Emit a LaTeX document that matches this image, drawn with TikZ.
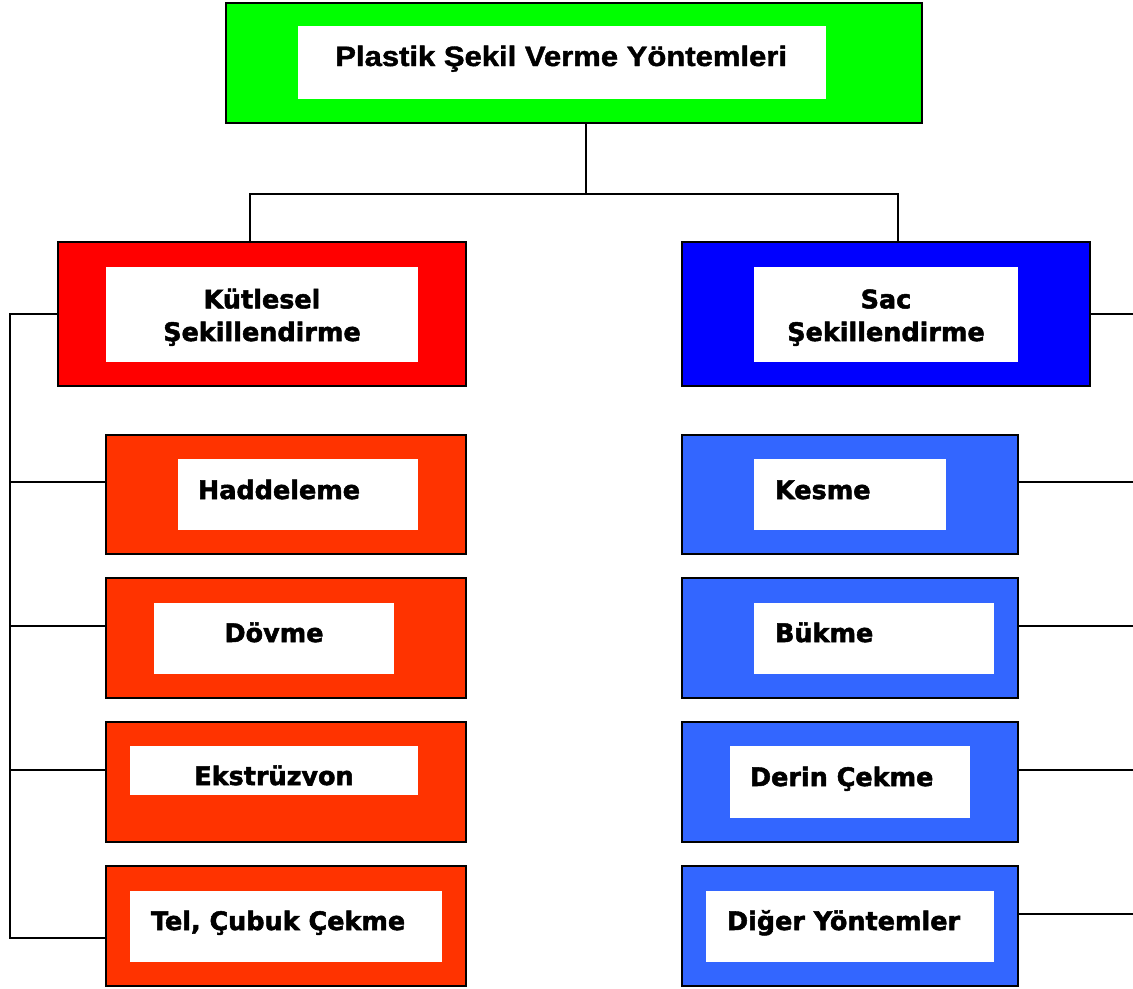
\documentclass[tikz,border=0pt]{standalone}
\usepackage{fontspec}
\usepackage{graphicx}
\setmainfont{DejaVu Sans}[BoldFeatures={FakeBold=2}]
\newfontfamily\titlef{Liberation Sans}[BoldFeatures={FakeBold=1.5}]
\definecolor{cgreen}{HTML}{00FF00}
\definecolor{cred}{HTML}{FF0000}
\definecolor{cblue}{HTML}{0000FF}
\definecolor{corange}{HTML}{FF3300}
\definecolor{clblue}{HTML}{3366FF}
\tikzset{
  box/.style={draw=black, line width=2pt, inner sep=0pt, outer sep=0pt},
  inner/.style={fill=white, inner sep=0pt, outer sep=0pt},
  lbl/.style={inner sep=0pt, outer sep=0pt, font=\bfseries\fontsize{19.1}{24.5}\selectfont},
  conn/.style={draw=black, line width=1.6pt},
}
\newcommand{\pbox}[6]{% name, x1, y1, x2, y2, style
  \node[#6, minimum width={(#4-#2)*0.75pt}, minimum height={(#5-#3)*0.75pt}] (#1) at ({(#2+#4)/2},{(#3+#5)/2}) {};}
\begin{document}
\begin{tikzpicture}[x=0.75pt,y=-0.75pt]
\useasboundingbox (0,0) rectangle (1133,989);
% top
\pbox{top}{226}{3}{922}{123}{box,fill=cgreen}
\pbox{topw}{298}{26}{826}{99}{inner}
\node[inner sep=0pt, anchor=base west] (topt) at (335,66) {\titlef\bfseries\fontsize{21}{25}\selectfont\scalebox{1.108}[1]{Plastik Şekil Verme Yöntemleri}};
% main
\pbox{kut}{58}{242}{466}{386}{box,fill=cred}
\pbox{kutw}{106}{267}{418}{362}{inner}
\node[lbl, align=center, anchor=base] (kutt) at (262,341) {Kütlesel\\Şekillendirme};
\pbox{sac}{682}{242}{1090}{386}{box,fill=cblue}
\pbox{sacw}{754}{267}{1018}{362}{inner}
\node[lbl, align=center, anchor=base] (sact) at (886,341) {Sac\\Şekillendirme};
% left children
\pbox{had}{106}{435}{466}{554}{box,fill=corange}
\pbox{hadw}{178}{459}{418}{530}{inner}
\node[lbl, anchor=base west] (hadt) at (198,499) {Haddeleme};
\pbox{dov}{106}{578}{466}{698}{box,fill=corange}
\pbox{dovw}{154}{603}{394}{674}{inner}
\node[lbl, anchor=base] (dovt) at (274,642) {Dövme};
\pbox{eks}{106}{722}{466}{842}{box,fill=corange}
\pbox{eksw}{130}{746}{418}{795}{inner}
\begin{scope}
\clip (120,740) rectangle (430,785);
\node[lbl, anchor=base] (ekst) at (274,785) {Ekstrüzyon};
\end{scope}
\pbox{tel}{106}{866}{466}{986}{box,fill=corange}
\pbox{telw}{130}{891}{442}{962}{inner}
\node[lbl, anchor=base west] (telt) at (151,930) {Tel, Çubuk Çekme};
% right children
\pbox{kes}{682}{435}{1018}{554}{box,fill=clblue}
\pbox{kesw}{754}{459}{946}{530}{inner}
\node[lbl, anchor=base west] (kest) at (775,499) {Kesme};
\pbox{buk}{682}{578}{1018}{698}{box,fill=clblue}
\pbox{bukw}{754}{603}{994}{674}{inner}
\node[lbl, anchor=base west] (bukt) at (775,642) {Bükme};
\pbox{der}{682}{722}{1018}{842}{box,fill=clblue}
\pbox{derw}{730}{746}{970}{818}{inner}
\node[lbl, anchor=base west] (dert) at (750,786) {Derin Çekme};
\pbox{dig}{682}{866}{1018}{986}{box,fill=clblue}
\pbox{digw}{706}{891}{994}{962}{inner}
\node[lbl, anchor=base west] (digt) at (727,930) {Diğer Yöntemler};
% connectors top
\coordinate (jt) at (586,194);
\coordinate (jl) at (250,194);
\coordinate (jr) at (898,194);
\draw[conn] (top.south -| jt) -- (jt);
\draw[conn] (jl |- kut.north) -- (jl) -- (jr) -- (jr |- sac.north);
% left bus
\coordinate (lb0) at (10,314);
\coordinate (lb1) at (10,482);
\coordinate (lb2) at (10,626);
\coordinate (lb3) at (10,770);
\coordinate (lb4) at (10,938);
\draw[conn] (kut.west) -- (lb0) -- (lb4) -- (lb4 -| tel.west);
\draw[conn] (lb1) -- (lb1 -| had.west);
\draw[conn] (lb2) -- (lb2 -| dov.west);
\draw[conn] (lb3) -- (lb3 -| eks.west);
% right lines
\coordinate (rb0) at (1133,314);
\coordinate (rb1) at (1133,482);
\coordinate (rb2) at (1133,626);
\coordinate (rb3) at (1133,770);
\coordinate (rb4) at (1133,914);
\draw[conn] (sac.east) -- (rb0);
\draw[conn] (rb1 -| kes.east) -- (rb1);
\draw[conn] (rb2 -| buk.east) -- (rb2);
\draw[conn] (rb3 -| der.east) -- (rb3);
\draw[conn] (rb4 -| dig.east) -- (rb4);
\end{tikzpicture}
\end{document}
